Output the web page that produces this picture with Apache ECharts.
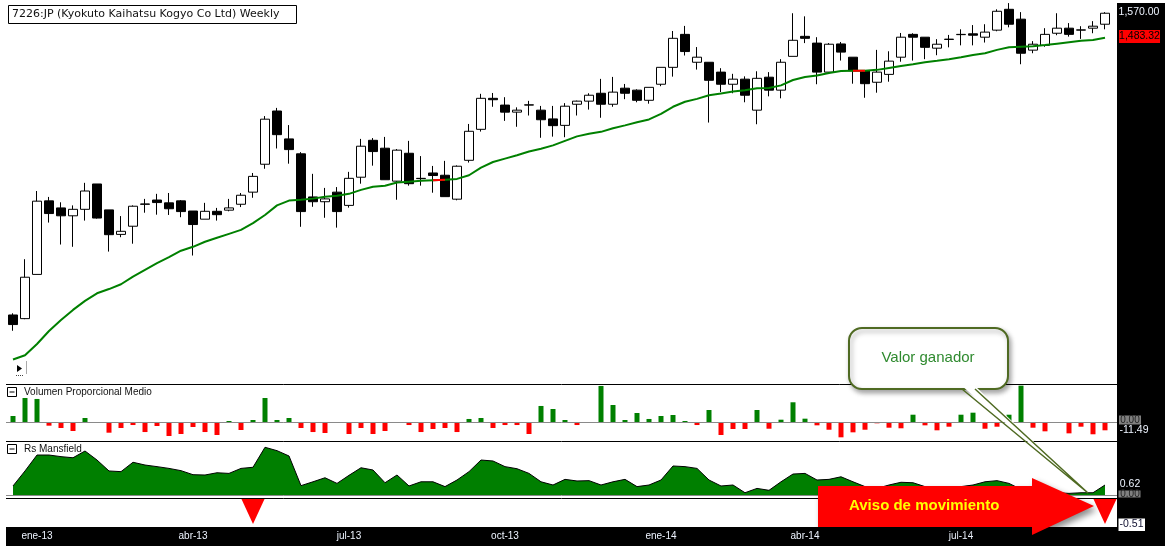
<!DOCTYPE html>
<html>
<head>
<meta charset="utf-8">
<script src="https://cdn.jsdelivr.net/npm/echarts@6/dist/echarts.min.js"></script>
<style>
html, body { margin: 0; padding: 0; background: #fff; }
#chart { width: 1165px; height: 546px; }
</style>
</head>
<body>
<div id="chart"></div>
<script>
// 7226:JP semanal, ene-13 .. sep-14
var opens = [499,486,643,904,879,851,874,964,872,785,
    814,893,907,897,904,868,839,867,871,892,
    935,1034,1223,1124,1071,918,901,935,888,988,
    1119,1091,974,1073,984,1003,995,910,1048,1158,
    1268,1244,1219,1244,1226,1195,1172,1247,1258,1286,
    1247,1304,1297,1261,1318,1378,1495,1396,1396,1361,
    1318,1336,1226,1343,1297,1417,1488,1464,1361,1461,
    1414,1366,1325,1353,1414,1495,1485,1446,1478,1494,
    1497,1485,1510,1584,1549,1439,1456,1499,1517,1510,
    1517,1531];
var closes = [465,633,903,859,851,874,939,843,784,796,
    885,892,898,876,866,820,867,855,879,924,
    991,1194,1139,1086,866,901,911,866,984,1098,
    1079,979,1084,965,983,994,919,1027,1151,1268,
    1263,1219,1226,1245,1192,1171,1240,1258,1279,1247,
    1290,1286,1261,1307,1378,1481,1434,1414,1332,1318,
    1336,1279,1339,1297,1396,1474,1481,1361,1460,1432,
    1366,1320,1361,1400,1485,1485,1449,1460,1477,1495,
    1492,1503,1577,1531,1428,1460,1495,1517,1495,1511,
    1524,1570];
var highs = [505,697,939,918,899,888,968,964,872,850,
    888,911,929,932,907,868,897,879,911,932,
    1003,1205,1234,1173,1077,1000,950,953,1007,1124,
    1127,1131,1088,1117,1063,1028,1046,1030,1177,1284,
    1287,1272,1236,1259,1241,1241,1251,1260,1286,1337,
    1344,1319,1300,1307,1378,1507,1525,1450,1396,1375,
    1355,1346,1364,1361,1407,1570,1559,1485,1464,1468,
    1414,1366,1440,1435,1500,1499,1485,1478,1493,1513,
    1528,1531,1584,1606,1574,1471,1517,1570,1535,1524,
    1542,1574];
var lows = [443,484,643,827,749,741,834,841,724,775,
    752,862,855,854,846,710,839,834,867,882,
    915,1018,1090,1036,812,883,844,809,880,965,
    1029,979,908,958,958,933,919,906,1040,1150,
    1238,1188,1167,1207,1128,1132,1130,1207,1228,1199,
    1238,1265,1254,1249,1311,1345,1420,1370,1182,1290,
    1286,1254,1176,1275,1268,1417,1464,1318,1357,1402,
    1320,1270,1288,1327,1398,1402,1407,1421,1449,1456,
    1456,1466,1506,1520,1389,1428,1451,1492,1487,1479,
    1499,1513];
// media movil
var ma = [341,356,396,442,481,517,549,576,591,608,
    635,659,683,704,727,741,759,773,787,801,
    825,854,888,905,908,912,919,922,929,943,
    954,958,969,972,975,977,979,982,995,1022,
    1042,1054,1066,1079,1089,1101,1117,1133,1142,1149,
    1162,1172,1183,1193,1213,1238,1256,1266,1279,1285,
    1292,1297,1304,1305,1314,1333,1344,1349,1358,1365,
    1366,1366,1369,1376,1383,1389,1396,1401,1407,1414,
    1422,1428,1440,1449,1451,1453,1457,1462,1467,1472,
    1475,1483.32];
var maRedIdx = [35, 36, 70, 71];
// Volumen Proporcional Medio
var vpm = [8.3,33.2,31.9,-5.1,-8.3,-12.5,5.5,0,-14.8,-8.3,
    -4.2,-13.9,-5.5,-19.4,-16.6,-6.9,-13.9,-18,1.4,-11.1,
    2.8,33.2,2.8,5.5,-8.3,-13.9,-15.2,0,-16.6,-8.3,
    -16.6,-12.5,0,-4.2,-13.9,-9.7,-8.3,-13.9,4.2,5.5,
    -8.3,-4.2,-4.2,-16.6,22.2,18,2.8,-4.2,0,49.9,
    23.5,2.8,12.5,4.2,8.3,9.7,1.4,-4.2,16.6,-18,
    -9.7,-9.7,16.6,-9.3,3.2,27.3,4.6,-4.6,-10.7,-21.2,
    -14.3,-10.7,-1.8,-7.9,-8.7,10.1,-4.6,-11.5,-6.5,10.1,
    12.9,-9.3,-6.5,10.1,50.3,-7.9,-12.9,0,-15.7,-6.5,
    -17,-11.49];
// Rs Mansfield
var rsm = [0.56,1.49,2.48,2.48,2.38,2.31,2.73,2.17,1.49,1.45,
    2.03,1.86,1.76,1.65,1.51,1.26,1.24,1.38,1.34,1.65,
    1.72,2.96,2.75,2.42,0.58,0.82,1.07,0.72,1.22,1.69,
    1.55,0.76,1.24,0.56,0.82,0.82,0.52,0.93,1.45,2.17,
    2.11,1.76,1.63,1.34,0.82,0.62,0.97,0.87,0.89,0.62,
    0.82,0.97,0.52,0.62,0.93,1.80,1.76,1.65,0.93,0.56,
    0.62,0.14,0.41,0.29,0.82,1.30,1.34,0.93,0.97,1.13,
    0.82,0.52,0.41,0.62,0.79,0.76,0.52,0.41,0.41,0.52,
    0.62,0.82,0.89,0.72,0.35,0.27,0.2,0.14,0.1,0.14,
    0.14,0.62];
var signalIdx = [20, 91];
var tickIdx = [2, 15, 28, 41, 54, 66, 79];
var tickTxt = ['ene-13', 'abr-13', 'jul-13', 'oct-13', 'ene-14', 'abr-14', 'jul-14'];

var weeks = opens.map(function (o, i) { return 'S' + (i + 1); });
var candles = opens.map(function (o, i) { return [o, closes[i], lows[i], highs[i]]; });
var maRed = ma.map(function (v, i) { return maRedIdx.indexOf(i) >= 0 ? v : null; });
var signals = signalIdx.map(function (i) { return [i, 0.55]; });

var myChart = echarts.init(document.getElementById('chart'));

var L = 7, W = 1104;
var txt = 'Liberation Sans';

function lbl(x, y, s, fill, align, size) {
    return { type: 'text', z: 60, style: { text: s, x: x, y: y, fill: fill, font: (size || 10) + 'px "' + txt + '"', textAlign: align || 'center', textVerticalAlign: 'middle' } };
}
function hline(y, color) {
    return { type: 'line', z: 4, shape: { x1: 6, y1: y, x2: 1117, y2: y }, style: { stroke: color, lineWidth: 1 } };
}

option = {
    animation: false,
    backgroundColor: '#fff',
    grid: [
        { left: L, width: W, top: 0, height: 384 },
        { left: L, width: W, top: 384, height: 57 },
        { left: L, width: W, top: 441, height: 54 },
        { left: L, width: W, top: 498, height: 29 }
    ],
    xAxis: [0, 1, 2, 3].map(function (g) {
        return {
            type: 'category', gridIndex: g, data: weeks, boundaryGap: true, z: 10,
            axisLine: { show: false }, axisTick: { show: false }, splitLine: { show: false },
            axisLabel: {
                show: g === 3, color: '#eef4ff', fontSize: 10, fontFamily: txt, margin: 4,
                interval: function (i) { return tickIdx.indexOf(i) >= 0; },
                formatter: function (v, i) { var k = tickIdx.indexOf(i); return k >= 0 ? tickTxt[k] : ''; }
            }
        };
    }),
    yAxis: [
        { gridIndex: 0, min: 254, max: 1617 },
        { gridIndex: 1, min: -26.3, max: 52.6 },
        { gridIndex: 2, min: 0, max: 3.35 },
        { gridIndex: 3, min: 0, max: 1 }
    ].map(function (a) {
        a.type = 'value'; a.show = false; a.splitLine = { show: false };
        return a;
    }),
    series: [
        {
            name: '7226:JP', type: 'candlestick', xAxisIndex: 0, yAxisIndex: 0,
            data: candles, barWidth: 10,
            itemStyle: { color: '#fff', color0: '#000', borderColor: '#000', borderColor0: '#000', borderWidth: 1 }
        },
        {
            name: 'MA', type: 'line', xAxisIndex: 0, yAxisIndex: 0, data: ma,
            symbol: 'none', lineStyle: { color: '#008000', width: 2 }, z: 3
        },
        {
            name: 'MA cruce', type: 'line', xAxisIndex: 0, yAxisIndex: 0, data: maRed,
            symbol: 'none', connectNulls: false, lineStyle: { color: '#ff0000', width: 2 }, z: 4
        },
        {
            name: 'Volumen Proporcional Medio', type: 'bar', xAxisIndex: 1, yAxisIndex: 1,
            data: vpm, barWidth: 5,
            itemStyle: { color: function (p) { return p.value >= 0 ? '#008000' : '#ff0000'; } }
        },
        {
            name: 'Rs Mansfield', type: 'line', xAxisIndex: 2, yAxisIndex: 2, data: rsm,
            symbol: 'none', lineStyle: { color: '#000', width: 1 },
            areaStyle: { color: '#007f00', opacity: 1 }
        },
        {
            name: 'Aviso', type: 'scatter', xAxisIndex: 3, yAxisIndex: 3, data: signals,
            symbol: 'triangle', symbolRotate: 180, symbolSize: [24, 26],
            itemStyle: { color: '#ff0000', opacity: 1 }
        }
    ],
    graphic: [
        // franjas negras de ejes
        { type: 'rect', z: 1, shape: { x: 6, y: 527, width: 1159, height: 19 }, style: { fill: '#000' } },
        { type: 'rect', z: 1, shape: { x: 1117, y: 3, width: 48, height: 543 }, style: { fill: '#000' } },
        hline(384.5, '#000'), hline(441.5, '#000'), hline(498.5, '#000'),
        hline(422.5, '#8a8a8a'), hline(495.5, '#8a8a8a'),
        // titulo
        { type: 'rect', z: 60, shape: { x: 8.5, y: 5.5, width: 288, height: 18 }, style: { fill: '#fff', stroke: '#000', lineWidth: 1 } },
        { type: 'text', z: 61, style: { text: '7226:JP (Kyokuto Kaihatsu Kogyo Co Ltd) Weekly', x: 12, y: 14.5, fill: '#111', font: '11px "DejaVu Sans"', textVerticalAlign: 'middle' } },
        // icono
        { type: 'polygon', z: 60, shape: { points: [[17, 365], [22, 368.5], [17, 372]] }, style: { fill: '#000' } },
        { type: 'line', z: 60, shape: { x1: 16, y1: 375.5, x2: 23, y2: 375.5 }, style: { stroke: '#444', lineWidth: 1, lineDash: [1, 1] } },
        { type: 'line', z: 60, shape: { x1: 26.5, y1: 361, x2: 26.5, y2: 374 }, style: { stroke: '#aaa', lineWidth: 1 } },
        // cabeceras de paneles
        { type: 'rect', z: 60, shape: { x: 7.5, y: 387.5, width: 9, height: 9 }, style: { fill: '#fff', stroke: '#000', lineWidth: 1 } },
        { type: 'line', z: 61, shape: { x1: 9.5, y1: 392, x2: 14.5, y2: 392 }, style: { stroke: '#000', lineWidth: 1 } },
        lbl(24, 392, 'Volumen Proporcional Medio', '#111', 'left'),
        { type: 'rect', z: 60, shape: { x: 7.5, y: 444.5, width: 9, height: 9 }, style: { fill: '#fff', stroke: '#000', lineWidth: 1 } },
        { type: 'line', z: 61, shape: { x1: 9.5, y1: 449, x2: 14.5, y2: 449 }, style: { stroke: '#000', lineWidth: 1 } },
        lbl(24, 449, 'Rs Mansfield', '#111', 'left'),
        // etiquetas del eje derecho
        lbl(1139, 12.5, '1,570.00', '#eef4ff', 'center', 10.5),
        { type: 'rect', z: 59, shape: { x: 1119, y: 30, width: 41, height: 13 }, style: { fill: '#ff0000' } },
        lbl(1139.5, 36.5, '1,483.32', '#000', 'center', 10.5),
        { type: 'rect', z: 59, shape: { x: 1119, y: 415.5, width: 22, height: 9 }, style: { fill: '#808080' } },
        lbl(1130, 420, '0.00', '#222'),
        lbl(1134, 430.5, '-11.49', '#eef4ff', 'center', 10.5),
        lbl(1130, 484.5, '0.62', '#eef4ff', 'center', 10.5),
        { type: 'rect', z: 59, shape: { x: 1118.5, y: 490.5, width: 22, height: 7 }, style: { fill: '#808080' } },
        lbl(1130, 494, '0.00', '#222'),
        { type: 'rect', z: 59, shape: { x: 1118.5, y: 518.5, width: 26.5, height: 12.5 }, style: { fill: '#fff' } },
        lbl(1131.5, 524.5, '-0.51', '#101030', 'center', 10.5),
        // flecha roja
        {
            type: 'polygon', z: 80,
            shape: { points: [[818, 486], [1032, 486], [1032, 478], [1094, 506], [1032, 535], [1032, 527], [818, 527]] },
            style: { fill: '#ff0000', shadowBlur: 6, shadowOffsetX: 3, shadowOffsetY: 4, shadowColor: 'rgba(0,0,0,0.45)' }
        },
        { type: 'text', z: 81, style: { text: 'Aviso de movimiento', x: 849, y: 505.5, fill: '#ffff00', font: 'bold 15px "Liberation Sans"', textVerticalAlign: 'middle' } },
        // globo
        {
            type: 'rect', z: 82, shape: { x: 849, y: 328, width: 159, height: 61, r: 13 },
            style: { fill: '#fff', stroke: '#4f6a22', lineWidth: 2, shadowBlur: 5, shadowOffsetX: 2, shadowOffsetY: 3, shadowColor: 'rgba(0,0,0,0.35)' }
        },
        { type: 'polygon', z: 83, shape: { points: [[962, 386], [975, 386], [1088, 493]] }, style: { fill: '#fff' } },
        { type: 'polyline', z: 84, shape: { points: [[962, 389], [1088, 493], [975, 389]] }, style: { stroke: '#4f6a22', lineWidth: 1.5, fill: null } },
        { type: 'text', z: 85, style: { text: 'Valor ganador', x: 928, y: 357.5, fill: '#2f8a2f', font: '15px "Liberation Sans"', textAlign: 'center', textVerticalAlign: 'middle' } }
    ]
};

myChart.setOption(option);
</script>
</body>
</html>
